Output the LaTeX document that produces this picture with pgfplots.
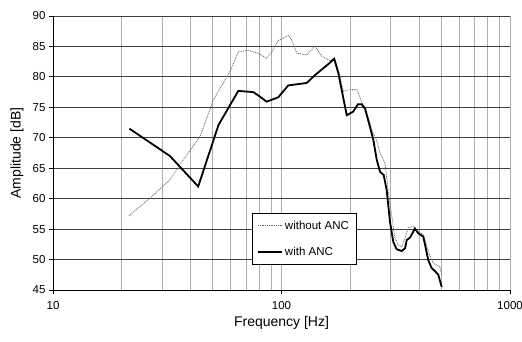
\documentclass[border=0pt]{standalone}
\usepackage{fontspec}
\setmainfont{Liberation Sans}
\usepackage{pgfplots}
\pgfplotsset{compat=1.18}
\begin{document}
\begin{tikzpicture}
\useasboundingbox (-53pt,-51pt) rectangle (469pt,290pt);
\begin{axis}[
  at={(0,0)}, anchor=south west,
  scale only axis, width=457pt, height=274pt,
  xmode=log, xmin=10, xmax=1000, ymin=45, ymax=90,
  xtick={10,100,1000}, xticklabels={10,100,1000},
  ytick={45,50,55,60,65,70,75,80,85,90},
  yticklabels={45,50,55,60,65,70,75,80,85,90},
  axis x line*=bottom, axis y line*=left,
  axis line style={black, line width=0.8pt, -},
  tick align=outside, major tick length=4pt, minor tick length=0pt,
  tick style={black, line width=0.8pt},
  grid=both,
  major grid style={black!32, line width=0.8pt},
  minor grid style={black!32, line width=0.8pt},
  y grid style={black!75, line width=0.8pt},
  ticklabel style={font=\fontsize{11.5}{13}\selectfont},
  xticklabel style={yshift=-4pt},
  xlabel={Frequency [Hz]}, ylabel={Amplitude [dB]},
  label style={font=\fontsize{14}{16}\selectfont},
  xlabel style={at={(axis description cs:0.5,-0.12)}, anchor=center},
  ylabel style={at={(axis description cs:-0.079,0.5)}, anchor=center},
  legend style={at={(0.435,0.281)}, anchor=north west, draw=black, line width=0.8pt,
    font=\fontsize{11.5}{13}\selectfont, row sep=12pt, inner xsep=5pt, inner ysep=5.5pt,
    legend cell align=left},
  legend image code/.code={\draw[#1] (0pt,0pt) -- (24pt,0pt);},
]
\addplot[black!60, line width=0.8pt, dash pattern=on 0.9pt off 0.9pt] coordinates {
(21.5,57.2) (26.6,60.1) (32.5,63.1) (37.2,66.4) (44,70.2) (50.3,76.2) (59.5,80.9)
(64.7,84.1) (71.5,84.4) (75.3,84.1) (79.1,83.9) (86.1,83.05) (90.6,84.1) (96.8,85.95)
(107,86.8) (110.8,86.06) (116.6,83.9) (128.9,83.6) (140.2,85.07) (150,83.4) (163,82.66)
(171.5,82.9) (180,80.3) (186.4,77.6) (195.6,77.85) (213.4,77.96) (224.4,75.9) (236,74.2)
(250,71.0) (261,69.5) (270,67.5) (283.8,65.8) (288.6,63.5) (296,60.0) (303.5,57.3)
(313.6,53.5) (324.5,52.4) (335.7,52.1) (347,53.5) (359,55.25) (377.7,55.4) (390.8,54.7)
(417.5,54.15) (439,51.3) (461.7,49.4) (494,48.8) (502,47.5)
};
\addlegendentry{without ANC}
\addplot[black, line width=1.8pt] coordinates {
(21.6,71.5) (32.5,67.0) (43.2,62.0) (53,72.1) (64.7,77.7) (75.3,77.5) (80.5,76.75)
(86.1,75.93) (96.8,76.65) (107,78.6) (128.9,79.0) (140.2,80.3) (163,82.33) (170,83.0)
(177.3,80.6) (193,73.7) (206,74.3) (216,75.5) (224,75.5) (232,74.8) (243.8,71.8)
(252.4,69.6) (261,66.4) (270,64.4) (280,63.9) (288.6,61.4) (298.4,56.2) (308.5,52.9)
(319,51.7) (335.7,51.4) (347.2,51.85) (353.2,53.2) (365,53.6) (383.8,55.1) (397,54.3)
(417.5,53.76) (439,49.9) (454,48.6) (469.6,48.1) (485.5,47.5) (502.5,45.5)
};
\addlegendentry{with ANC}
\end{axis}
\end{tikzpicture}
\end{document}
